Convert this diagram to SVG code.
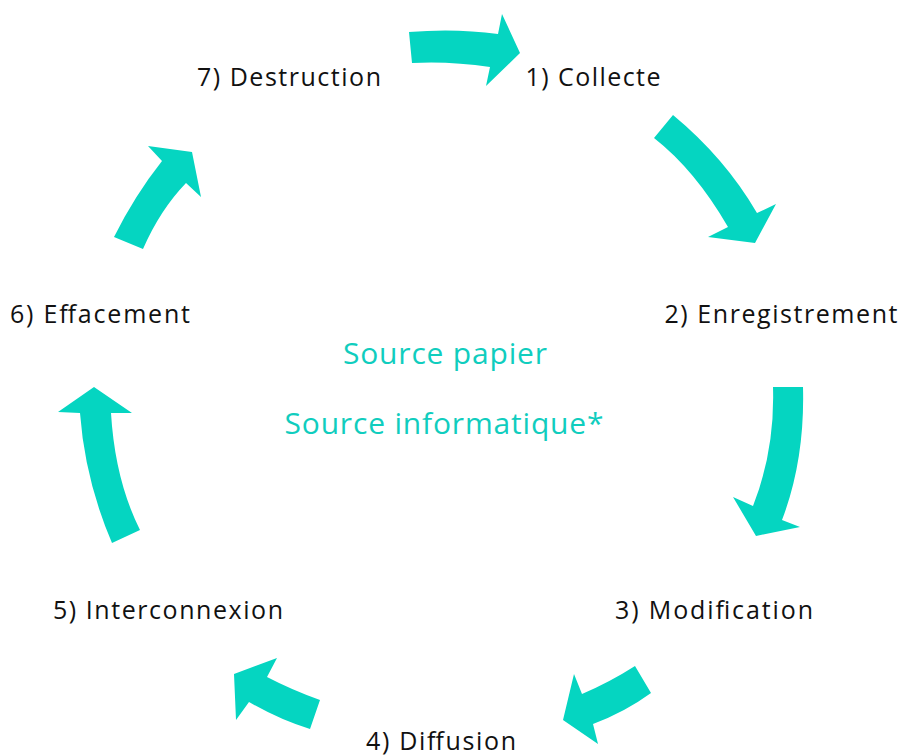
<svg xmlns="http://www.w3.org/2000/svg" width="901" height="756" viewBox="0 0 901 756">
<style>
.arrow{fill:#05D5C1;stroke:none}
.lbl{font-family:"Open Sans","Liberation Sans",sans-serif;font-size:25px;fill:#111;text-anchor:middle}
.src{font-family:"Open Sans","Liberation Sans",sans-serif;font-size:30px;fill:#10CDBE;text-anchor:middle}
</style>
<rect width="901" height="756" fill="#fff"/>
<g id="connectors">
<path class="arrow" d="M409,32 Q455,28 498,34 L502,14 L520,53 L486,86 L490,67 Q450,61 412,63 Z"/>
<path class="arrow" d="M673,115 Q725,158 757,213 L776,204 L755,243 L708,237 L728,227 Q695,170 654,138 Z"/>
<path class="arrow" d="M773,387 L803,387 Q805,460 782,520 L800,527 L756,536 L733,497 L753,506 Q775,450 773,387 Z"/>
<path class="arrow" d="M635,666 Q610,682 582,694 L574,674 L563,720 L598,744 L593,724 Q625,712 651,693 Z"/>
<path class="arrow" d="M277,658 L234,674 L236,720 L249,702 Q280,720 310,729 L320,700 Q292,690 267,677 Z"/>
<path class="arrow" d="M94,387 L132,413 L111,413 Q115,480 140,530 L112,543 Q85,480 80,413 L58,412 Z"/>
<path class="arrow" d="M148,146 L192,152 L201,197 L186,183 Q160,210 143,249 L114,237 Q135,195 162,161 Z"/>
</g>
<g id="n1"><text class="lbl" x="593" y="86" textLength="135">1) Collecte</text></g>
<g id="n2"><text class="lbl" x="781" y="323" textLength="233">2) Enregistrement</text></g>
<g id="n3"><text class="lbl" x="714" y="619" textLength="198">3) Modification</text></g>
<g id="n4"><text class="lbl" x="441" y="750" textLength="150">4) Diffusion</text></g>
<g id="n5"><text class="lbl" x="168" y="619" textLength="230">5) Interconnexion</text></g>
<g id="n6"><text class="lbl" x="100" y="323" textLength="180">6) Effacement</text></g>
<g id="n7"><text class="lbl" x="289" y="86" textLength="184">7) Destruction</text></g>
<g id="center">
<text class="src" x="445" y="364" textLength="204">Source papier</text>
<text class="src" x="444" y="434" textLength="319">Source informatique*</text>
</g>
</svg>
